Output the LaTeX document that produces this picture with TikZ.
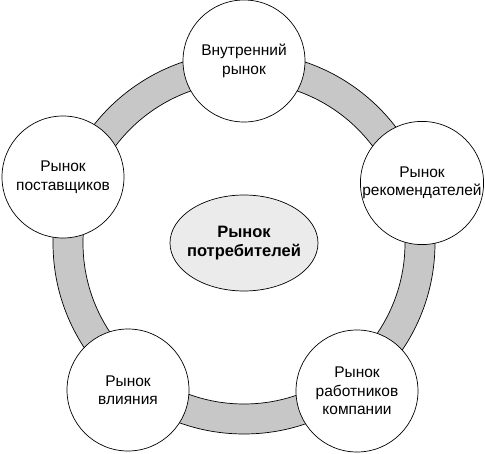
\documentclass[tikz,border=0pt]{standalone}
\usepackage{fontspec}
\setmainfont{Liberation Sans}
\usetikzlibrary{shapes,positioning}

\begin{document}
\begin{tikzpicture}[x=1pt, y=1pt,
        market/.style={circle, draw, fill=white, line width=0.7pt, minimum size=122pt, inner sep=0pt, text centered, align=center, font=\fontsize{15.5}{18.5}\selectfont},
        core/.style={ellipse, draw, fill=black!8, line width=0.7pt, inner xsep=-6pt, inner ysep=8pt, minimum width=148pt, minimum height=96pt, align=center, font=\fontsize{16.5}{19}\selectfont\bfseries},
        band/.style={fill=black!22, draw, line width=0.7pt, even odd rule},
    ]
        \useasboundingbox (0,0) rectangle (485,453);
        % Ring behind the markets
        \coordinate (hub) at (244, 210);
        \path[band] (hub) circle[radius=191] (hub) circle[radius=161];

        % Centre
        \node[core] (consumers) at (hub) {Рынок\\потребителей};

        % Five markets round the ring
        \node[market] (internal) at (244, 392) {Внутренний\\рынок};
        \node[market] (referral) at (422, 270) {Рынок\\рекомендателей};
        \node[market] (staff) at (357, 62) {Рынок\\работников\\компании};
        \node[market] (influence) at (128, 63) {Рынок\\влияния};
        \node[market] (suppliers) at (63, 276) {Рынок\\поставщиков};
    \end{tikzpicture}
\end{document}
